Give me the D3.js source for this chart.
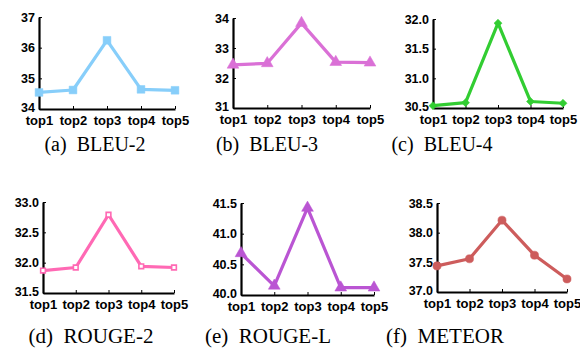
<!DOCTYPE html>
<html>
<head>
<meta charset="utf-8">
<script src="https://cdn.jsdelivr.net/npm/d3@7"></script>
<style>
  html, body { margin: 0; padding: 0; background: #fff; }
  svg { display: block; }
</style>
</head>
<body>
<div id="chart"></div>
<script>
// data
const categories = ["top1", "top2", "top3", "top4", "top5"];

const bleu2  = [34.54, 34.62, 36.24, 34.64, 34.61];
const bleu3  = [32.44, 32.49, 33.83, 32.53, 32.51];
const bleu4  = [30.54, 30.59, 31.93, 30.61, 30.58];
const rouge2 = [31.87, 31.92, 32.79, 31.94, 31.92];
const rougeL = [40.68, 40.15, 41.42, 40.12, 40.12];
const meteor = [37.44, 37.56, 38.21, 37.62, 37.22];

const captions = ["(a)  BLEU-2", "(b)  BLEU-3", "(c)  BLEU-4",
                  "(d)  ROUGE-2", "(e)  ROUGE-L", "(f)  METEOR"];

const yTicks = [
    [34, 35, 36, 37],
    [31, 32, 33, 34],
    [30.5, 31.0, 31.5, 32.0],
    [31.5, 32.0, 32.5, 33.0],
    [40.0, 40.5, 41.0, 41.5],
    [37.0, 37.5, 38.0, 38.5]
];
const tickFormats = ["d", "d", ".1f", ".1f", ".1f", ".1f"];

const width = 580, height = 348;

// layout of the six small panels (axis box in pixels)
const panels = [
    { x0: 39,  x1: 175, y0: 17,  y1: 109, capX: 95,  capY: 151, capSize: 20 },
    { x0: 233, x1: 370, y0: 18,  y1: 108, capX: 267, capY: 151, capSize: 20 },
    { x0: 433, x1: 563, y0: 19,  y1: 108, capX: 442, capY: 151, capSize: 20 },
    { x0: 43,  x1: 174, y0: 202, y1: 293, capX: 91,  capY: 343, capSize: 21 },
    { x0: 241, x1: 374, y0: 203, y1: 295, capX: 268, capY: 343, capSize: 21 },
    { x0: 437, x1: 567, y0: 203, y1: 292, capX: 445, capY: 343, capSize: 21 }
];

const series = [bleu2, bleu3, bleu4, rouge2, rougeL, meteor];
const colors = ["#87cefa", "#da70d6", "#32cd32", "#ff69b4", "#ba55d3", "#cd5c5c"];

// marker style per panel
const markers = [
    { type: d3.symbolSquare,   size: 60, rotate: 0,  hollow: false },
    { type: d3.symbolTriangle, size: 60, rotate: 0,  hollow: false },
    { type: d3.symbolSquare,   size: 32, rotate: 45, hollow: false },
    { type: d3.symbolSquare,   size: 22, rotate: 0,  hollow: true },
    { type: d3.symbolTriangle, size: 60, rotate: 0,  hollow: false },
    { type: d3.symbolCircle,   size: 52, rotate: 0,  hollow: false }
];

const svg = d3.select("#chart")
    .append("svg")
    .attr("width", width)
    .attr("height", height);

panels.forEach((p, i) => {
    const values = series[i];
    const ticks = yTicks[i];

    const x = d3.scalePoint()
        .domain(categories)
        .range([p.x0, p.x1]);

    const y = d3.scaleLinear()
        .domain([ticks[0], ticks[ticks.length - 1]])
        .range([p.y1, p.y0]);

    const g = svg.append("g");

    // axes
    const xAxis = g.append("g")
        .attr("transform", `translate(0,${p.y1})`)
        .call(d3.axisBottom(x).tickSizeInner(-3).tickSizeOuter(0).tickPadding(7));

    const yAxis = g.append("g")
        .attr("transform", `translate(${p.x0},0)`)
        .call(d3.axisLeft(y).tickValues(ticks).tickFormat(d3.format(tickFormats[i]))
            .tickSizeInner(-3).tickSizeOuter(0).tickPadding(4));

    [xAxis, yAxis].forEach(a => {
        a.select(".domain").attr("stroke", "#000").attr("stroke-width", 2.2);
        a.selectAll(".tick line").attr("stroke", "#000").attr("stroke-width", 1);
        a.selectAll("text")
            .attr("fill", "#000")
            .style("font-family", "'Liberation Sans', Arial, sans-serif")
            .style("font-weight", "bold");
    });
    xAxis.selectAll("text").style("font-size", "13px");
    yAxis.selectAll("text").style("font-size", "12.5px");
    // lift the lowest y label a touch so it clears the x labels
    yAxis.selectAll(".tick text").filter(d => d === ticks[0]).attr("dy", "0.2em");

    // line
    const line = d3.line()
        .x((d, j) => x(categories[j]))
        .y(d => y(d));

    g.append("path")
        .datum(values)
        .attr("fill", "none")
        .attr("stroke", colors[i])
        .attr("stroke-width", 3.2)
        .attr("stroke-linejoin", "round")
        .attr("d", line);

    // markers
    const m = markers[i];
    g.selectAll(".marker")
        .data(values)
        .enter()
        .append("path")
        .attr("class", "marker")
        .attr("transform", (d, j) => `translate(${x(categories[j])},${y(d)}) rotate(${m.rotate})`)
        .attr("d", d3.symbol().type(m.type).size(m.size))
        .attr("fill", m.hollow ? "#fff" : colors[i])
        .attr("stroke", colors[i])
        .attr("stroke-width", m.hollow ? 1.6 : 0.5);

    // caption
    svg.append("text")
        .attr("x", p.capX)
        .attr("y", p.capY)
        .attr("text-anchor", "middle")
        .attr("fill", "#000")
        .style("font-family", "'Liberation Serif', 'Times New Roman', serif")
        .style("font-size", p.capSize + "px")
        .style("white-space", "pre")
        .text(captions[i]);
});
</script>
</body>
</html>
